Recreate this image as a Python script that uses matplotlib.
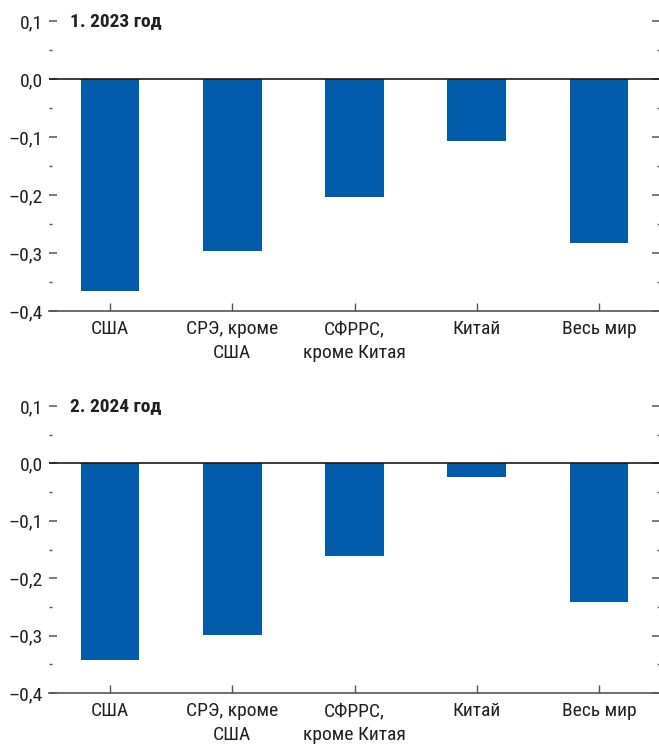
import matplotlib
matplotlib.use("Agg")
import matplotlib.pyplot as plt
from matplotlib.ticker import MultipleLocator, FixedLocator

# condensed face first, plain sans as fallback
plt.rcParams["font.family"] = ["Liberation Sans Narrow", "Roboto Condensed", "PT Sans Narrow",
                               "Liberation Sans", "DejaVu Sans"]

# Data
categories = ["США", "СРЭ, кроме\nСША", "СФРРС,\nкроме Китая", "Китай", "Весь мир"]
values_2023 = [-0.365, -0.297, -0.203, -0.107, -0.283]
values_2024 = [-0.343, -0.299, -0.162, -0.024, -0.242]
titles = ["1. 2023 год", "2. 2024 год"]
y_ticks = [-0.4, -0.3, -0.2, -0.1, 0.0, 0.1]

bar_color = "#005BAA"
text_color = "#231F20"
axis_gray = "#555555"

fig = plt.figure(figsize=(6.59, 7.45), dpi=100)

left = 49 / 659
width = 611 / 659
ax1 = fig.add_axes([left, 1 - 311 / 745, width, 290 / 745])
ax2 = fig.add_axes([left, 1 - 693 / 745, width, 287 / 745])


def fmt(v):
    s = f"{abs(v):.1f}".replace(".", ",")
    return ("–" + s) if v < -1e-9 else s


for ax, vals, title in zip([ax1, ax2], [values_2023, values_2024], titles):
    x = range(len(categories))
    ax.bar(x, vals, width=0.48, color=bar_color, zorder=2)
    ax.axhline(0, color="#1a1a1a", lw=1.2, zorder=3)

    ax.set_xlim(-0.5, 4.5)
    ax.set_ylim(-0.4, 0.1)

    for s in ["left", "right", "top"]:
        ax.spines[s].set_visible(False)
    ax.spines["bottom"].set_color(axis_gray)
    ax.spines["bottom"].set_linewidth(1.2)

    ax.yaxis.set_major_locator(FixedLocator(y_ticks))
    ax.yaxis.set_minor_locator(MultipleLocator(0.05))
    ax.set_yticklabels([fmt(v) for v in y_ticks])
    ax.tick_params(axis="y", which="major", direction="in", length=5.5, width=1.1,
                   color=axis_gray, left=True, right=True, labelsize=14,
                   labelcolor=text_color, pad=4.5)
    ax.tick_params(axis="y", which="minor", direction="in", length=2.5, width=1,
                   color=axis_gray, left=True, right=True)

    ax.set_xticks(list(x))
    ax.set_xticklabels(categories, linespacing=1.4)
    ax.tick_params(axis="x", direction="in", length=5.5, width=1, color=axis_gray,
                   labelsize=14, labelcolor=text_color, pad=6.5)

    ax.text(21 / 611, 1.0, title, transform=ax.transAxes, ha="left", va="center",
            fontsize=14, fontweight="bold", color=text_color)

fig.savefig("out.png", dpi=100)
